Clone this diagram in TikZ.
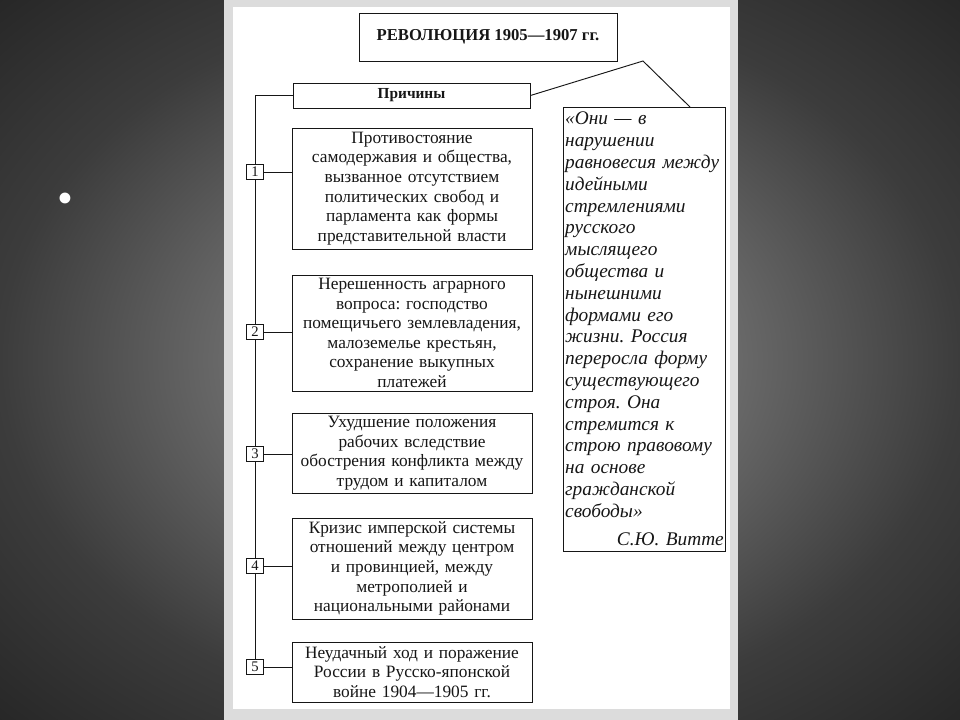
\documentclass[tikz,border=0pt]{standalone}
\usepackage{fontspec}
\setmainfont{Liberation Serif}
\usetikzlibrary{positioning}
\frenchspacing
\definecolor{bgmid}{HTML}{787878}
\definecolor{bgin}{HTML}{6A6A6A}
\definecolor{bgedge}{HTML}{3C3C3C}
\definecolor{bgcorner}{HTML}{262626}
\definecolor{pagegray}{HTML}{DCDCDC}
\definecolor{ink}{HTML}{161616}
\pgfdeclareradialshading{slidebg}{\pgfpoint{0bp}{0bp}}{color(0bp)=(bgmid); color(13bp)=(bgin); color(25bp)=(bgedge); color(36bp)=(bgcorner); color(50bp)=(bgcorner)}
\tikzset{
  titlebox/.style={draw=ink, line width=0.7pt, fill=white, text=ink, minimum width=193.5pt, minimum height=36pt, font=\fontsize{12.5}{14}\selectfont\bfseries},
  headbox/.style={draw=ink, line width=0.7pt, fill=white, text=ink, minimum width=177.75pt, minimum height=18.75pt, inner sep=0pt, font=\fontsize{11.5}{13}\selectfont\bfseries},
  causebox/.style={draw=ink, line width=0.7pt, fill=white, text=ink, align=center, text width=176pt, inner xsep=2pt, inner ysep=1pt, font=\fontsize{13}{14.7}\selectfont},
  numbox/.style={draw=ink, line width=0.7pt, fill=white, text=ink, minimum width=12.75pt, minimum height=11.25pt, inner sep=0pt, font=\fontsize{11}{11}\selectfont},
  quotebox/.style={draw=ink, line width=0.7pt, fill=white, text=ink, align=left, text width=119pt, inner xsep=1.5pt, inner ysep=2pt, minimum height=333pt, font=\fontsize{14.5}{16.35}\selectfont\itshape},
  link/.style={draw=ink, line width=0.7pt}
}

\begin{document}
\begin{tikzpicture}[x=0.75pt,y=-0.75pt]

% Slide and page
\shade[shading=slidebg] (0,0) rectangle (960,720);
\fill[pagegray] (224,0) rectangle (738,720);
\fill[white] (233,7) rectangle (730,709);
\node[text=white, font=\fontsize{34}{34}\selectfont] (bullet) at (65,203) {•};

% Heads
\node[titlebox] (title) at (488,37) {РЕВОЛЮЦИЯ 1905—1907 гг.};
\node[headbox] (prich) at (411.5,95.5) {Причины};

% Causes
\node[causebox, minimum height=90.75pt] (b1) at (412,188.5) {Противостояние\\самодержавия и общества,\\вызванное отсутствием\\политических свобод и\\парламента как формы\\представительной власти};
\node[causebox, minimum height=87pt] (b2) at (412,333) {Нерешенность аграрного\\вопроса: господство\\помещичьего землевладения,\\малоземелье крестьян,\\сохранение выкупных\\платежей};
\node[causebox, minimum height=60pt] (b3) at (412,453) {Ухудшение положения\\рабочих вследствие\\обострения конфликта между\\трудом и капиталом};
\node[causebox, minimum height=75.75pt] (b4) at (412,568.5) {Кризис имперской системы\\отношений между центром\\и провинцией, между\\метрополией и\\национальными районами};
\node[causebox, minimum height=45pt] (b5) at (412,672) {Неудачный ход и поражение\\России в Русско-японской\\войне 1904—1905 гг.};

% Numbers
\node[numbox] (n1) at (255,172) {1};
\node[numbox] (n2) at (255,332) {2};
\node[numbox] (n3) at (255,454) {3};
\node[numbox] (n4) at (255,566) {4};
\node[numbox] (n5) at (255,667) {5};

% Quote
\node[quotebox] (quote) at (644.5,329) {«Они — в\\нарушении\\равновесия между\\идейными\\стремлениями\\русского\\мыслящего\\общества и\\нынешними\\формами его\\жизни. Россия\\переросла форму\\существующего\\строя. Она\\стремится к\\строю правовому\\на основе\\гражданской\\свободы»\\[5pt]\hskip 0pt plus 1filll С.Ю. Витте};

% Trunk and connectors
\draw[link] (prich.west) -| (n1.north);
\draw[link] (n1.south) -- (n2.north);
\draw[link] (n2.south) -- (n3.north);
\draw[link] (n3.south) -- (n4.north);
\draw[link] (n4.south) -- (n5.north);
\draw[link] (n1.east) -- (n1.east -| b1.west);
\draw[link] (n2.east) -- (n2.east -| b2.west);
\draw[link] (n3.east) -- (n3.east -| b3.west);
\draw[link] (n4.east) -- (n4.east -| b4.west);
\draw[link] (n5.east) -- (n5.east -| b5.west);

% Callout to the quote
\coordinate (apex) at (643,61);
\coordinate (qtop) at (690,107);
\draw[link] (prich.east) -- (apex) -- (qtop);

\end{tikzpicture}
\end{document}
